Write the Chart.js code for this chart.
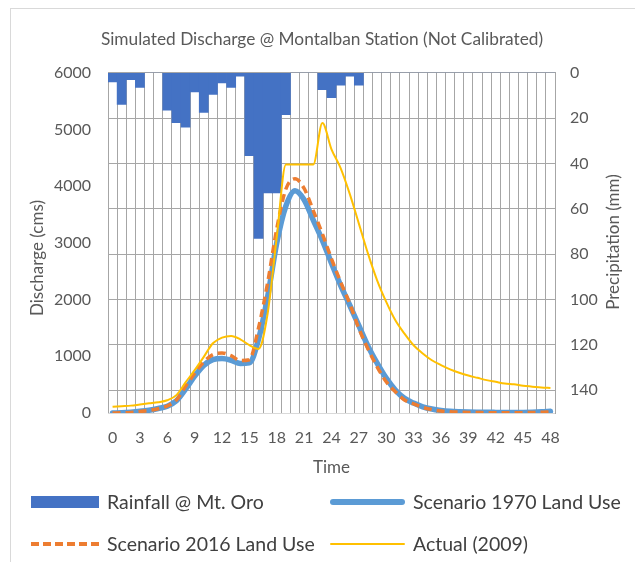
<!DOCTYPE html>
<html>
<head>
<meta charset="utf-8">
<script src="https://cdn.jsdelivr.net/npm/chart.js@4.4.1/dist/chart.umd.min.js"></script>
<style>
  body { margin: 0; background: #fff; }
  #wrap { position: relative; width: 635px; height: 562px; overflow: hidden; font-family: Lato, "Open Sans", sans-serif; }
  #frame { position: absolute; left: 10px; top: 8px; width: 700px; height: 700px; border: 1px solid #d9d9d9; box-sizing: border-box; }
  #chart { position: absolute; left: 0; top: 0; }
  .lg-item { position: absolute; height: 24px; }
  .lg-text { position: absolute; top: 0; line-height: 24px; font-size: 19.5px; color: #404040; white-space: nowrap; }
  .lg-swatch { position: absolute; }
</style>
</head>
<body>
<div id="wrap">
  <div id="frame"></div>
  <canvas id="chart" width="635" height="562"></canvas>
  <div id="legend"></div>
</div>
<script>
// Hours 0..48
const hours = [
  0, 1, 2, 3, 4, 5, 6, 7, 8, 9, 10, 11, 12, 13, 14, 15, 16, 17, 18, 19, 20,
  21, 22, 23, 24, 25, 26, 27, 28, 29, 30, 31, 32, 33, 34, 35, 36, 37, 38, 39,
  40, 41, 42, 43, 44, 45, 46, 47, 48,
];

// Rainfall @ Mt. Oro (mm), plotted downward from the top
const rainfall = [
  4, 14, 3, 6.5, 0, 0, 16.5, 22, 24, 8.5, 17.5, 9.5, 4.5, 6.5, 1.5, 36.5, 73,
  53, 53, 18.5, 0, 0, 0, 7.5, 11, 5.5, 1.5, 5.5, 0, 0, 0, 0, 0, 0, 0, 0, 0, 0,
  0, 0, 0, 0, 0, 0, 0, 0, 0, 0, 0,
];

// Discharge (cms)
const scenario1970 = [
  0, 5, 15, 30, 50, 80, 120, 215, 420, 650, 840, 940, 960, 930, 875, 885, 1300,
  2050, 3000, 3650, 3920, 3760, 3400, 3045, 2640, 2250, 1900, 1540, 1180, 880,
  615, 405, 260, 175, 110, 70, 45, 30, 22, 17, 14, 12, 11, 10, 10, 11, 14, 20,
  30,
];

const scenario2016 = [
  0, 3, 10, 25, 45, 75, 125, 230, 470, 700, 900, 1030, 1060, 1010, 925, 940,
  1500, 2300, 3250, 3950, 4130, 3960, 3570, 3160, 2720, 2310, 1930, 1490, 1130,
  815, 550, 375, 230, 160, 100, 60, 35, 22, 15, 10, 8, 6, 5, 5, 5, 6, 8, 12, 20,
];

const actual2009 = [
  110, 120, 130, 150, 170, 190, 225, 315, 540, 755, 990, 1230, 1330, 1360, 1300,
  1195, 1130, 1755, 3100, 4380, 4380, 4380, 4380, 5115, 4650, 4320, 3865, 3340,
  2810, 2340, 1960, 1635, 1400, 1195, 1050, 930, 845, 770, 710, 660, 620, 580,
  550, 520, 505, 480, 465, 450, 440,
];

const textColor = "#595959";
const gridColor = "#a6a6a6";
const fontFamily = "Lato, 'Open Sans', sans-serif";
const tickSize = 16;
const titleSize = 17.3;
const axisTitleSize = 17;

// Both axis titles read bottom-to-top, like the original
const axisTitles = {
  id: "axisTitles",
  afterDraw(chart) {
    const ctx = chart.ctx;
    ctx.save();
    ctx.fillStyle = textColor;
    ctx.font = axisTitleSize + "px " + fontFamily;
    ctx.textAlign = "center";
    ctx.textBaseline = "middle";
    [
      ["Discharge (cms)", 38, 258],
      ["Precipitation (mm)", 614, 242],
    ].forEach(([text, x, y]) => {
      ctx.save();
      ctx.translate(x, y);
      ctx.rotate(-Math.PI / 2);
      ctx.fillText(text, 0, 0);
      ctx.restore();
    });
    ctx.restore();
  },
};

const ctx = document.getElementById("chart").getContext("2d");
const chart = new Chart(ctx, {
  data: {
    labels: hours,
    datasets: [
      {
        type: "bar",
        label: "Rainfall @ Mt. Oro",
        data: rainfall,
        yAxisID: "y1",
        backgroundColor: "#4472C4",
        borderWidth: 0,
        barPercentage: 1,
        categoryPercentage: 1,
        order: 4,
      },
      {
        type: "line",
        label: "Scenario 1970 Land Use",
        data: scenario1970,
        yAxisID: "y",
        borderColor: "#5B9BD5",
        borderWidth: 5.5,
        borderCapStyle: "round",
        borderJoinStyle: "round",
        pointRadius: 0,
        cubicInterpolationMode: "monotone",
        order: 3,
      },
      {
        type: "line",
        label: "Scenario 2016 Land Use",
        data: scenario2016,
        yAxisID: "y",
        borderColor: "#ED7D31",
        borderWidth: 3.5,
        borderDash: [8, 5],
        pointRadius: 0,
        cubicInterpolationMode: "monotone",
        order: 2,
      },
      {
        type: "line",
        label: "Actual (2009)",
        data: actual2009,
        yAxisID: "y",
        borderColor: "#FFC000",
        borderWidth: 2,
        pointRadius: 0,
        cubicInterpolationMode: "monotone",
        order: 1,
      },
    ],
  },
  options: {
    responsive: false,
    animation: false,
    layout: { padding: { left: 9, right: 0, top: 0, bottom: 79 } },
    plugins: {
      legend: { display: false },
      tooltip: { enabled: false },
      title: {
        display: true,
        text: "Simulated Discharge @ Montalban Station (Not Calibrated)",
        color: textColor,
        font: { family: fontFamily, size: titleSize, weight: "normal" },
        padding: { top: 29, bottom: 23 },
      },
    },
    scales: {
      x: {
        type: "category",
        offset: true,
        grid: { color: gridColor, offset: true, drawTicks: false },
        border: { color: "#d9d9d9" },
        ticks: {
          autoSkip: false,
          maxRotation: 0,
          padding: 15,
          color: textColor,
          font: { family: fontFamily, size: tickSize },
          callback: (val, idx) => (idx % 3 === 0 ? hours[idx] : ""),
        },
        title: {
          display: true,
          text: "Time",
          color: textColor,
          font: { family: fontFamily, size: axisTitleSize },
          padding: { top: 0, bottom: 5 },
        },
        afterFit: (scale) => {
          scale.height = 70;
        },
      },
      y: {
        position: "left",
        min: 0,
        max: 6000,
        ticks: {
          stepSize: 1000,
          padding: 17,
          color: textColor,
          font: { family: fontFamily, size: tickSize },
          callback: (v) => String(v),
        },
        grid: { drawOnChartArea: false, drawTicks: false },
        border: { display: false },
        afterFit: (scale) => {
          scale.width = 99;
        },
      },
      y1: {
        position: "right",
        min: 0,
        max: 150,
        reverse: true,
        ticks: {
          stepSize: 20,
          padding: 15,
          color: textColor,
          font: { family: fontFamily, size: tickSize },
          callback: (v) => (v % 20 === 0 ? v : ""),
        },
        grid: {
          drawTicks: false,
          color: (c) => (c.tick && c.tick.value === 150 ? "#d9d9d9" : gridColor),
        },
        border: { color: gridColor },
        afterFit: (scale) => {
          scale.width = 80;
        },
      },
    },
  },
  plugins: [axisTitles],
});

// HTML legend in two columns, built from the datasets
function buildLegend() {
  const spots = [
    [31, 490],
    [330, 490],
    [31, 532],
    [330, 532],
  ];
  const legend = document.getElementById("legend");
  chart.data.datasets.forEach((ds, i) => {
    const item = document.createElement("div");
    item.className = "lg-item";
    item.style.left = spots[i][0] + "px";
    item.style.top = spots[i][1] + "px";

    const sw = document.createElement("div");
    sw.className = "lg-swatch";
    if (ds.type === "bar") {
      sw.style.cssText = "left:0;top:6px;width:68px;height:12px;background:" + ds.backgroundColor;
    } else if (ds.borderDash) {
      sw.style.cssText =
        "left:0;top:10px;width:70px;height:3.5px;background:repeating-linear-gradient(90deg," +
        ds.borderColor + " 0 8px, transparent 8px 12px)";
    } else {
      const h = ds.borderWidth;
      sw.style.cssText =
        "left:0;top:" + (12 - h / 2) + "px;width:75px;height:" + h + "px;border-radius:3px;background:" + ds.borderColor;
    }
    item.appendChild(sw);

    const tx = document.createElement("div");
    tx.className = "lg-text";
    tx.style.left = (ds.type === "bar" || ds.borderDash ? 76 : 83) + "px";
    tx.textContent = ds.label;
    item.appendChild(tx);
    legend.appendChild(item);
  });
}

buildLegend();
</script>
</body>
</html>
